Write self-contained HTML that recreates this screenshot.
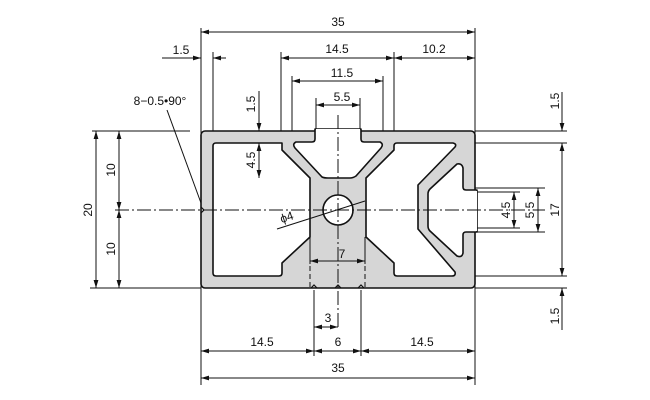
<!DOCTYPE html>
<html><head><meta charset="utf-8"><style>
html,body{margin:0;padding:0;background:#fff;}
svg{display:block;}
text{font-family:"Liberation Sans",sans-serif;font-size:12px;fill:#111;}
</style></head><body>
<svg width="650" height="400" viewBox="0 0 650 400" xmlns="http://www.w3.org/2000/svg">
<defs>
<marker id="a" viewBox="0 0 10 6" refX="10" refY="3" markerWidth="8" markerHeight="5" orient="auto-start-reverse" markerUnits="userSpaceOnUse"><path d="M0,0 L10,3 L0,6 z" fill="#111"/></marker>
</defs>
<g stroke="#111" stroke-width="1" fill="none">
<line x1="201" y1="28" x2="201" y2="385"/>
<line x1="475" y1="28" x2="475" y2="385"/>
<line x1="213" y1="52" x2="213" y2="143"/>
<line x1="281" y1="52" x2="281" y2="143"/>
<line x1="394" y1="52" x2="394" y2="143"/>
<line x1="292" y1="76" x2="292" y2="143"/>
<line x1="383" y1="76" x2="383" y2="143"/>
<line x1="316" y1="98" x2="316" y2="131"/>
<line x1="360" y1="98" x2="360" y2="131"/>
<line x1="92" y1="131" x2="190" y2="131"/>
<line x1="90" y1="288" x2="201" y2="288"/>
<line x1="475" y1="131" x2="567" y2="131"/>
<line x1="462" y1="143" x2="567" y2="143"/>
<line x1="462" y1="276" x2="567" y2="276"/>
<line x1="475" y1="288" x2="567" y2="288"/>
<line x1="430" y1="188" x2="545" y2="188"/>
<line x1="430" y1="232" x2="545" y2="232"/>
<line x1="430" y1="192" x2="520" y2="192"/>
<line x1="430" y1="228" x2="520" y2="228"/>
<line x1="258" y1="178" x2="322" y2="178"/>
<line x1="314" y1="290" x2="314" y2="356"/>
<line x1="361" y1="290" x2="361" y2="356"/>
</g>
<g stroke="#111" stroke-width="1.6" stroke-linejoin="round">
<rect x="201" y="131" width="274" height="157" rx="4" fill="#d6d6d6"/>
<path d="M213,146 Q213,143 216,143 L282,143 L282,150 L310,178 L310,237 L282,263 L282,273 Q282,276 279,276 L216,276 Q213,276 213,273 Z" fill="#fff"/>
<path d="M397,143 L453,143 Q457,144 455,147 L418,185 L418,229 L455,272 Q456,276 452,276 L397,276 Q394,276 394,273 L394,263 L366,237 L366,178 L394,150 L394,146 Q394,143 397,143 Z" fill="#fff"/>
<path d="M315,129 L315,139 Q315,142 312,142 L296,142 Q292,144 295,148 L322,177 Q324,178 328,178 L350,178 Q353,178 356,176 L381,148 Q384,144 380,142 L364,142 Q361,142 361,139 L361,129 Z" fill="#fff"/>
<path d="M477,190 L466,190 Q463,190 463,187 L463,168 Q462,163 457,164 L430,189 Q428,191 428,194 L428,226 Q428,229 430,231 L457,256 Q462,258 463,253 L463,235 Q463,232 466,232 L477,232 Z" fill="#fff"/>
<circle cx="338" cy="210" r="15" fill="#fff"/>
</g>
<g fill="#fff"><rect x="316" y="129" width="44" height="3"/><rect x="474" y="191" width="3" height="40"/></g>
<g stroke="#111" stroke-width="1.2" fill="none">
<path d="M201,207 L204,210 L201,213"/>
<path d="M311,288 L314,285 L317,288"/><path d="M335,288 L338,285 L341,288"/><path d="M358,288 L361,285 L364,288"/>
</g>
<g stroke="#111" stroke-width="1" stroke-dasharray="14,3,2,3">
<line x1="115" y1="210" x2="545" y2="210"/>
<line x1="338" y1="115" x2="338" y2="330"/>
</g>
<g stroke="#111" stroke-width="1">
<line x1="310" y1="237" x2="310" y2="264"/>
<line x1="365" y1="237" x2="365" y2="264"/>
</g>
<g stroke="#111" stroke-width="1" stroke-dasharray="5,3">
<line x1="310" y1="266" x2="310" y2="290"/>
<line x1="365" y1="266" x2="365" y2="290"/>
</g>
<g stroke="#111" stroke-width="1" marker-start="url(#a)" marker-end="url(#a)">
<line x1="201" y1="32" x2="475" y2="32"/>
<line x1="281" y1="58" x2="394" y2="58"/>
<line x1="394" y1="58" x2="475" y2="58"/>
<line x1="292" y1="81" x2="383" y2="81"/>
<line x1="316" y1="105" x2="360" y2="105"/>
<line x1="96" y1="131" x2="96" y2="288"/>
<line x1="119" y1="131" x2="119" y2="210"/>
<line x1="119" y1="210" x2="119" y2="288"/>
<line x1="259" y1="143" x2="259" y2="178"/>
<line x1="562" y1="143" x2="562" y2="276"/>
<line x1="538" y1="188" x2="538" y2="232"/>
<line x1="514" y1="192" x2="514" y2="228"/>
<line x1="310" y1="261" x2="365" y2="261"/>
<line x1="201" y1="351" x2="314" y2="351"/>
<line x1="314" y1="351" x2="361" y2="351"/>
<line x1="361" y1="351" x2="475" y2="351"/>
<line x1="201" y1="378" x2="475" y2="378"/>
<line x1="314" y1="327" x2="338" y2="327"/>
</g>
<g stroke="#111" stroke-width="1" marker-end="url(#a)">
<line x1="162" y1="58" x2="201" y2="58"/>
<line x1="226" y1="58" x2="213" y2="58"/>
<line x1="259" y1="91" x2="259" y2="131"/>
<line x1="562" y1="92" x2="562" y2="131"/>
<line x1="562" y1="330" x2="562" y2="288"/>
</g>
<g stroke="#111" stroke-width="1">
<line x1="167" y1="110" x2="201" y2="203"/>
<line x1="277" y1="229" x2="365" y2="201"/>
</g>
<text x="338" y="26" text-anchor="middle">35</text>
<text x="181" y="54" text-anchor="middle">1.5</text>
<text x="337" y="53" text-anchor="middle">14.5</text>
<text x="434" y="53" text-anchor="middle">10.2</text>
<text x="342" y="77" text-anchor="middle">11.5</text>
<text x="342" y="101" text-anchor="middle">5.5</text>
<text x="160" y="105" text-anchor="middle">8−0.5•90°</text>
<text transform="translate(255,104) rotate(-90)" text-anchor="middle">1.5</text>
<text transform="translate(255,160) rotate(-90)" text-anchor="middle">4.5</text>
<text transform="translate(92,210) rotate(-90)" text-anchor="middle">20</text>
<text transform="translate(115,170) rotate(-90)" text-anchor="middle">10</text>
<text transform="translate(115,249) rotate(-90)" text-anchor="middle">10</text>
<text transform="translate(559,101) rotate(-90)" text-anchor="middle">1.5</text>
<text transform="translate(559,210) rotate(-90)" text-anchor="middle">17</text>
<text transform="translate(534,210) rotate(-90)" text-anchor="middle">5.5</text>
<text transform="translate(510,210) rotate(-90)" text-anchor="middle">4.5</text>
<text transform="translate(559,316) rotate(-90)" text-anchor="middle">1.5</text>
<text transform="translate(288,221) rotate(-18)" text-anchor="middle">ϕ4</text>
<text x="342" y="258" text-anchor="middle">7</text>
<text x="328" y="322" text-anchor="middle">3</text>
<text x="262" y="346" text-anchor="middle">14.5</text>
<text x="338" y="346" text-anchor="middle">6</text>
<text x="422" y="346" text-anchor="middle">14.5</text>
<text x="338" y="372" text-anchor="middle">35</text>
</svg>
</body></html>
